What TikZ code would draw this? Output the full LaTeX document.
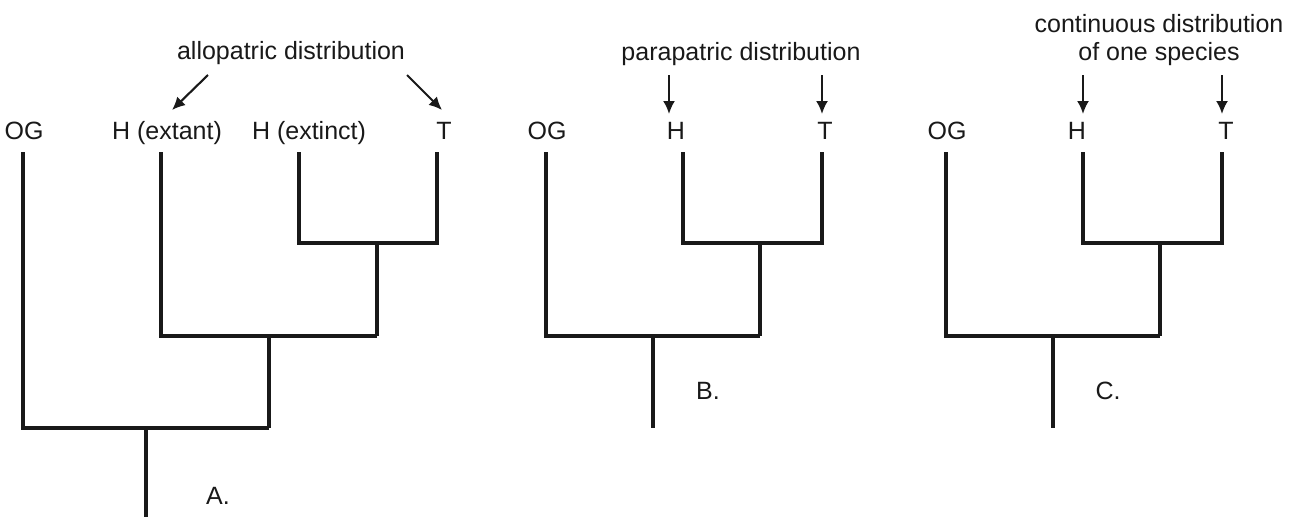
\documentclass[tikz,border=0pt]{standalone}
\usepackage{fontspec}
\setmainfont{Liberation Sans}
\usetikzlibrary{arrows.meta}
\begin{document}
\begin{tikzpicture}[x=1pt,y=-1pt,
  branch/.style={line width=4.5pt,line join=miter,draw=black!90},
  pointer/.style={line width=2.1pt,draw=black!90,-{Latex[length=13pt,width=12pt]}},
  lbl/.style={inner sep=0pt,anchor=base,font=\fontsize{25}{30}\selectfont,text=black!90}]
\useasboundingbox (0,0) rectangle (1299,517);
% ---------- Panel A ----------
\node[lbl] (aOG) at (24,139) {OG};
\node[lbl] (aHx) at (167,139) {H (extant)};
\node[lbl] (aHe) at (309,139) {H (extinct)};
\node[lbl] (aT) at (444,139) {T};
\node[lbl] (aHead) at (291,59) {allopatric distribution};
\node[lbl] (aLab) at (218,504) {A.};
\coordinate (aOGt) at (23,152);
\coordinate (aHxt) at (161,152);
\coordinate (aHet) at (299,152);
\coordinate (aTt) at (437,152);
\coordinate (aN1) at (377,243);
\coordinate (aN1b) at (377,336);
\coordinate (aN2) at (269,336);
\coordinate (aN2b) at (269,428);
\coordinate (aR) at (146,428);
\coordinate (aRb) at (146,517);
\draw[branch] (aHet) |- (aN1) -| (aTt);
\draw[branch] (aN1) -- (aN1b);
\draw[branch] (aHxt) |- (aN1b);
\draw[branch] (aN2) -- (aN2b);
\draw[branch] (aOGt) |- (aN2b);
\draw[branch] (aR) -- (aRb);
\coordinate (aA1s) at (208,75);
\coordinate (aA1e) at (172,110);
\coordinate (aA2s) at (407,75);
\coordinate (aA2e) at (442,110);
\draw[pointer] (aA1s) -- (aA1e);
\draw[pointer] (aA2s) -- (aA2e);
% ---------- Panel B ----------
\node[lbl] (bOG) at (547,139) {OG};
\node[lbl] (bH) at (676,139) {H};
\node[lbl] (bT) at (825,139) {T};
\node[lbl] (bHead) at (741,60) {parapatric distribution};
\node[lbl] (bLab) at (708,399) {B.};
\coordinate (bOGt) at (546,152);
\coordinate (bHt) at (683,152);
\coordinate (bTt) at (822,152);
\coordinate (bN1) at (760,243);
\coordinate (bN1b) at (760,336);
\coordinate (bR) at (653,336);
\coordinate (bRb) at (653,428);
\draw[branch] (bHt) |- (bN1) -| (bTt);
\draw[branch] (bN1) -- (bN1b);
\draw[branch] (bOGt) |- (bN1b);
\draw[branch] (bR) -- (bRb);
\coordinate (bA1s) at (669,75);
\coordinate (bA1e) at (669,114);
\coordinate (bA2s) at (822,75);
\coordinate (bA2e) at (822,114);
\draw[pointer] (bA1s) -- (bA1e);
\draw[pointer] (bA2s) -- (bA2e);
% ---------- Panel C ----------
\node[lbl] (cOG) at (947,139) {OG};
\node[lbl] (cH) at (1077,139) {H};
\node[lbl] (cT) at (1226,139) {T};
\node[lbl] (cHead1) at (1159,32) {continuous distribution};
\node[lbl] (cHead2) at (1159,60) {of one species};
\node[lbl] (cLab) at (1108,399) {C.};
\coordinate (cOGt) at (946,152);
\coordinate (cHt) at (1083,152);
\coordinate (cTt) at (1222,152);
\coordinate (cN1) at (1160,243);
\coordinate (cN1b) at (1160,336);
\coordinate (cR) at (1053,336);
\coordinate (cRb) at (1053,428);
\draw[branch] (cHt) |- (cN1) -| (cTt);
\draw[branch] (cN1) -- (cN1b);
\draw[branch] (cOGt) |- (cN1b);
\draw[branch] (cR) -- (cRb);
\coordinate (cA1s) at (1083,75);
\coordinate (cA1e) at (1083,114);
\coordinate (cA2s) at (1222,75);
\coordinate (cA2e) at (1222,114);
\draw[pointer] (cA1s) -- (cA1e);
\draw[pointer] (cA2s) -- (cA2e);
\end{tikzpicture}
\end{document}
